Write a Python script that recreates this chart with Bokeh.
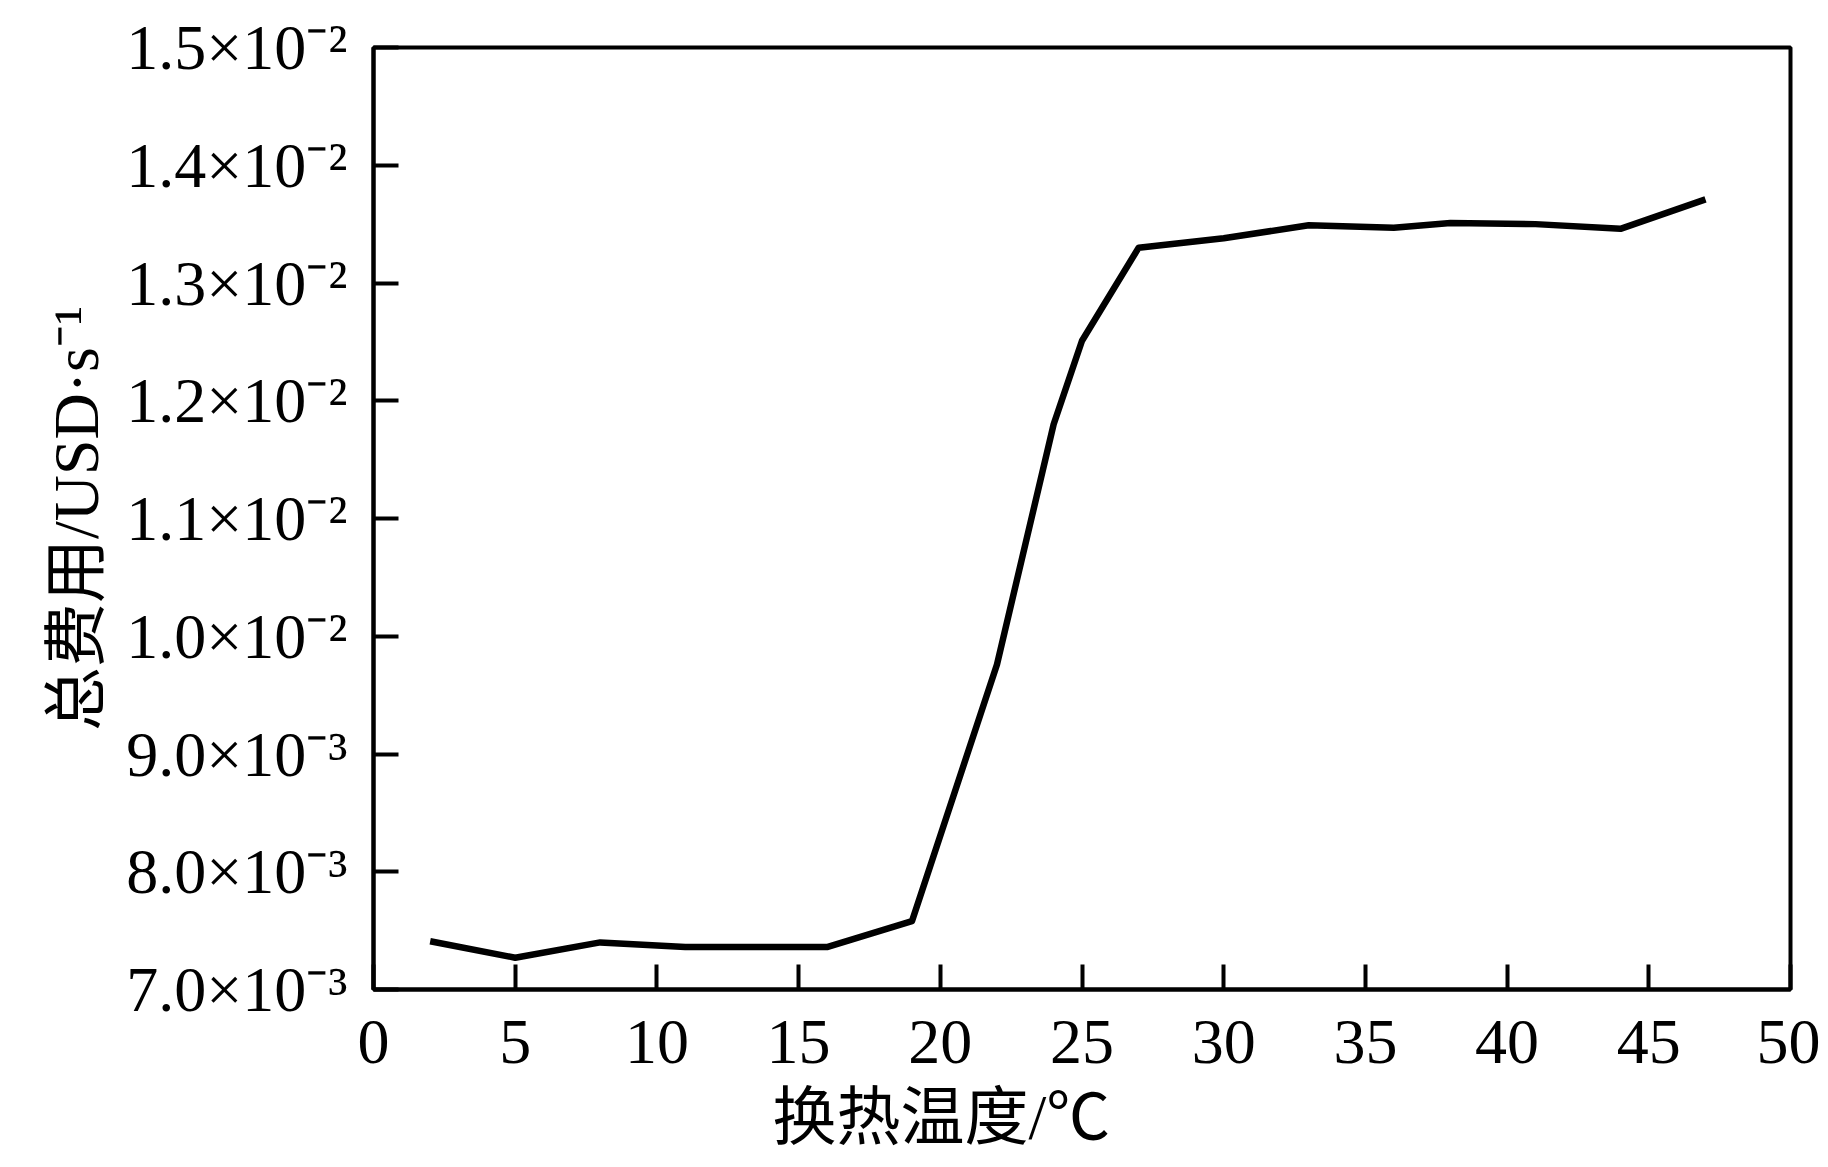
from bokeh.plotting import figure
from bokeh.models import FixedTicker, Range1d, Title
from bokeh.embed import file_html
from bokeh.resources import INLINE

# data
temperature = [2, 5, 8, 11, 16, 19, 22, 24, 25, 27, 30, 33, 36, 38, 41, 44, 47]
total_cost = [7.41e-3, 7.27e-3, 7.40e-3, 7.36e-3, 7.36e-3, 7.58e-3, 9.76e-3, 11.80e-3,
              12.51e-3, 13.30e-3, 13.38e-3, 13.49e-3, 13.47e-3, 13.51e-3, 13.50e-3,
              13.46e-3, 13.71e-3]

x_ticks = [0, 5, 10, 15, 20, 25, 30, 35, 40, 45, 50]
y_ticks = [0.007, 0.008, 0.009, 0.010, 0.011, 0.012, 0.013, 0.014, 0.015]
y_tick_labels = ["7.0×10⁻³", "8.0×10⁻³", "9.0×10⁻³", "1.0×10⁻²", "1.1×10⁻²",
                 "1.2×10⁻²", "1.3×10⁻²", "1.4×10⁻²", "1.5×10⁻²"]
x_title = "换热温度/℃"
y_title = "总费用/USD·s⁻¹"

FONT = "'Liberation Serif', 'Noto Sans CJK SC'"

p = figure(width=1820, height=1167, output_backend="svg", toolbar_location=None,
           x_range=Range1d(0, 50), y_range=Range1d(0.007, 0.015),
           min_border_left=373, min_border_right=30, min_border_top=47,
           min_border_bottom=178)

p.line(temperature, total_cost, line_color="black", line_width=6.5, line_join="round")

p.grid.visible = False
p.outline_line_color = "black"
p.outline_line_width = 4

for ax in (p.xaxis[0], p.yaxis[0]):
    ax.axis_line_width = 4
    ax.axis_line_color = "black"
    ax.major_tick_in = 25
    ax.major_tick_out = 0
    ax.major_tick_line_width = 4
    ax.major_tick_line_color = "black"
    ax.minor_tick_line_color = None
    ax.major_label_text_font = FONT
    ax.major_label_text_font_size = "64px"
    ax.major_label_text_color = "black"
    ax.axis_label_text_font = FONT
    ax.axis_label_text_font_style = "normal"
    ax.axis_label_text_color = "black"

p.xaxis[0].ticker = FixedTicker(ticks=x_ticks)
p.xaxis[0].major_label_standoff = 31

p.yaxis[0].ticker = FixedTicker(ticks=y_ticks)
p.yaxis[0].major_label_overrides = {t: s for t, s in zip(y_ticks, y_tick_labels)}
p.yaxis[0].major_label_standoff = 26
p.yaxis[0].axis_label = y_title
p.yaxis[0].axis_label_text_font_size = "64px"
p.yaxis[0].axis_label_standoff = 11

# x-axis title sits left of the frame centre in the original
p.add_layout(Title(text=x_title, align="left", offset=399, standoff=28,
                   text_font=FONT, text_font_size="64px", text_font_style="normal",
                   text_color="black"), "below")

open("out.html", "w").write(file_html(p, INLINE))
